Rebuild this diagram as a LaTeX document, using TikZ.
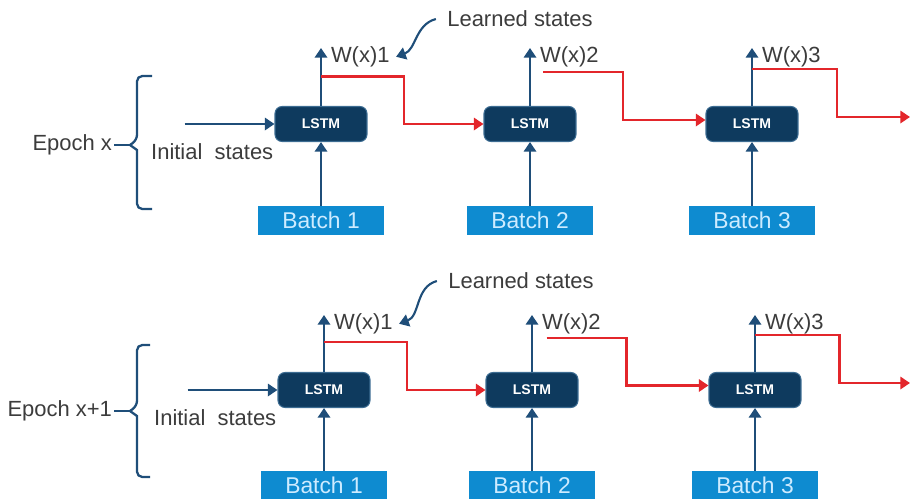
\documentclass[tikz,border=0pt]{standalone}
\usepackage{fontspec}
\setmainfont{Liberation Sans}
\usetikzlibrary{positioning,arrows.meta}
\definecolor{lstmnavy}{HTML}{0E3A5E}
\definecolor{lstmedge}{HTML}{3C6C92}
\definecolor{arrownavy}{HTML}{1F4E79}
\definecolor{batchblue}{HTML}{0E8BD0}
\definecolor{batchtext}{HTML}{CDEBFF}
\definecolor{statered}{HTML}{E3262B}
\definecolor{labelgray}{HTML}{3C3C3C}

\begin{document}
\begin{tikzpicture}[
    x=0.02cm, y=-0.02cm,
    >={Triangle[length=5.5pt,width=7pt]},
    every node/.style={font=\fontsize{12.5}{15}\selectfont, text=labelgray},
    lstm/.style={draw=lstmedge, fill=lstmnavy, rounded corners=4pt, line width=0.6pt,
                 minimum width=1.84cm, minimum height=0.7cm, text=white,
                 font=\fontsize{8}{9}\selectfont\bfseries},
    batch/.style={fill=batchblue, minimum width=2.54cm, minimum height=0.58cm,
                  text=batchtext, font=\fontsize{13}{15}\selectfont},
    flow/.style={->, draw=arrownavy, line width=1.5pt},
    carry/.style={->, draw=statered, line width=1.4pt},
    note/.style={->, draw=arrownavy, line width=1.2pt},
    brace/.style={draw=arrownavy, line width=1.3pt, rounded corners=3pt},
    wlabel/.style={inner sep=1pt},
  ]
  \useasboundingbox (0,0) rectangle (910,498);

  % epoch x
  \node[lstm] (l11) at (321,124) {LSTM};
  \node[lstm] (l12) at (530,124) {LSTM};
  \node[lstm] (l13) at (752,124) {LSTM};
  \node[batch, below=1.27cm of l11] (b11) {Batch 1};
  \node[batch, below=1.27cm of l12] (b12) {Batch 2};
  \node[batch, below=1.27cm of l13] (b13) {Batch 3};
  \coordinate[above=1.16cm of l11.north] (w11);
  \coordinate[above=1.16cm of l12.north] (w12);
  \coordinate[above=1.16cm of l13.north] (w13);
  \node[wlabel, right=4.5pt of w11, yshift=-5pt] (wl11) {W(x)1};
  \node[wlabel, right=4.5pt of w12, yshift=-5pt] (wl12) {W(x)2};
  \node[wlabel, right=4.5pt of w13, yshift=-5pt] (wl13) {W(x)3};
  \node (ls1) at (520,19) {Learned states};
  \node[inner sep=0.5pt, anchor=north east] (is1) at (l11.south west) {Initial\ \ states};
  \coordinate[left=1.8cm of l11.west] (s1);
  \coordinate (k1) at (130,145);
  \node[inner sep=1pt, left=0.32cm of k1] (e1) {Epoch x};
  \coordinate (x13) at (910,117);

  \draw[brace] (152,76) -- (137,76) -- (137,140) [sharp corners] -- (k1) -- (137,150)
    [rounded corners=3pt] -- (137,209) -- (152,209);
  \draw[arrownavy, line width=1.3pt] (e1.east) -- (k1);
  \draw[flow] (s1) -- (l11.west);
  \foreach \n in {11,12,13} {
    \draw[flow] (b\n) -- (l\n);
    \draw[flow] (l\n.north) -- (w\n);
  }
  \draw[carry] ([yshift=0.59cm]l11.north) -- ++(1.66cm,0) |- (l12.west);
  \draw[carry] ([xshift=0.26cm,yshift=0.68cm]l12.north) -- ++(1.6cm,0) |- ([yshift=0.08cm]l13.west);
  \draw[carry] ([yshift=0.74cm]l13.north) -- ++(1.7cm,0) |- (x13);
  \draw[note] ([xshift=-3pt]ls1.west) to[out=195, in=20] ([xshift=2.5pt]wl11.east);

  % epoch x+1
  \node[lstm] (l21) at (324,390) {LSTM};
  \node[lstm] (l22) at (532,390) {LSTM};
  \node[lstm] (l23) at (755,390) {LSTM};
  \node[batch, below=1.25cm of l21] (b21) {Batch 1};
  \node[batch, below=1.25cm of l22] (b22) {Batch 2};
  \node[batch, below=1.25cm of l23] (b23) {Batch 3};
  \coordinate[above=1.14cm of l21.north] (w21);
  \coordinate[above=1.14cm of l22.north] (w22);
  \coordinate[above=1.14cm of l23.north] (w23);
  \node[wlabel, right=4.5pt of w21, yshift=-5pt] (wl21) {W(x)1};
  \node[wlabel, right=4.5pt of w22, yshift=-5pt] (wl22) {W(x)2};
  \node[wlabel, right=4.5pt of w23, yshift=-5pt] (wl23) {W(x)3};
  \node (ls2) at (521,281) {Learned states};
  \node[inner sep=0.5pt, anchor=north east] (is2) at (l21.south west) {Initial\ \ states};
  \coordinate[left=1.8cm of l21.west] (s2);
  \coordinate (k2) at (130,411);
  \node[inner sep=1pt, left=0.32cm of k2] (e2) {Epoch x+1};
  \coordinate (x23) at (910,383);

  \draw[brace] (150,345) -- (137,345) -- (137,406) [sharp corners] -- (k2) -- (137,416)
    [rounded corners=3pt] -- (137,477) -- (150,477);
  \draw[arrownavy, line width=1.3pt] (e2.east) -- (k2);
  \draw[flow] (s2) -- (l21.west);
  \foreach \n in {21,22,23} {
    \draw[flow] (b\n) -- (l\n);
    \draw[flow] (l\n.north) -- (w\n);
  }
  \draw[carry] ([yshift=0.6cm]l21.north) -- ++(1.66cm,0) |- (l22.west);
  \draw[carry] ([xshift=0.29cm,yshift=0.68cm]l22.north) -- ++(1.6cm,0) |- ([yshift=0.09cm]l23.west);
  \draw[carry] ([yshift=0.74cm]l23.north) -- ++(1.69cm,0) |- (x23);
  \draw[note] ([xshift=-3pt]ls2.west) to[out=195, in=20] ([xshift=2.5pt]wl21.east);
\end{tikzpicture}
\end{document}
